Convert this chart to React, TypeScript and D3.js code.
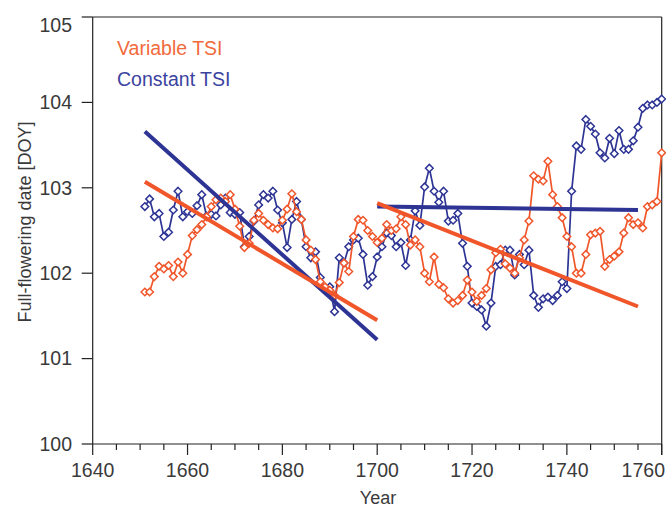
import React from "react";
import * as d3 from "d3";

// Years covered by both simulated series
const years: number[] = d3.range(1651, 1761);

// Full-flowering date simulated with variable total solar irradiance
const variableTSI: number[] = [
  101.78, 101.78, 101.96, 102.08, 102.05, 102.09, 101.96, 102.13, 102.0, 102.22,
  102.44, 102.51, 102.57, 102.66, 102.78, 102.86, 102.88, 102.84, 102.92, 102.75,
  102.55, 102.3, 102.35, 102.62, 102.7, 102.62, 102.57, 102.53, 102.52, 102.62,
  102.75, 102.93, 102.72, 102.63, 102.39, 102.27, 102.16, 101.9, 101.84, 101.8,
  101.74, 101.89, 102.12, 102.02, 102.43, 102.63, 102.62, 102.5, 102.43, 102.36,
  102.41, 102.57, 102.5, 102.52, 102.66, 102.57, 102.33, 102.39, 102.31, 102.0,
  101.9, 102.19, 101.87, 101.83, 101.7, 101.65, 101.68, 101.74, 101.92, 101.78,
  101.67, 101.74, 101.82, 102.04, 102.24, 102.28, 102.11, 102.06, 102.0, 102.18,
  102.39, 102.61, 103.14, 103.1, 103.08, 103.31, 102.92, 102.78, 102.65, 102.43,
  102.31, 102.0, 102.0, 102.22, 102.45, 102.47, 102.49, 102.08, 102.16, 102.2,
  102.25, 102.47, 102.65, 102.57, 102.59, 102.53, 102.78, 102.8, 102.84, 103.41,
];

// Full-flowering date simulated with constant total solar irradiance
const constantTSI: number[] = [
  102.78, 102.87, 102.66, 102.7, 102.43, 102.48, 102.74, 102.96, 102.66, 102.72,
  102.7, 102.79, 102.92, 102.67, 102.69, 102.67, 102.8, 102.88, 102.71, 102.69,
  102.71, 102.31, 102.43, 102.61, 102.8, 102.92, 102.88, 102.96, 102.74, 102.59,
  102.3, 102.63, 102.84, 102.63, 102.31, 102.18, 102.25, 101.95, 101.8, 101.84,
  101.55, 102.18, 102.12, 102.31, 102.39, 102.41, 102.22, 101.86, 101.96, 102.19,
  102.31, 102.47, 102.44, 102.31, 102.36, 102.09, 102.39, 102.73, 102.56, 103.01,
  103.23, 102.96, 102.83, 102.96, 102.61, 102.62, 102.7, 102.35, 102.08, 101.65,
  101.61, 101.57, 101.38, 101.65, 102.08, 102.1, 102.27, 102.27, 101.98, 102.22,
  102.1, 102.27, 101.74, 101.6, 101.7, 101.72, 101.68, 101.74, 101.9, 101.82,
  102.96, 103.49, 103.45, 103.8, 103.72, 103.63, 103.41, 103.35, 103.58, 103.4,
  103.67, 103.45, 103.45, 103.55, 103.71, 103.93, 103.97, 103.97, 104.0, 104.04,
];

// Linear trends: [startYear, startValue, endYear, endValue]
const variableTrends: [number, number, number, number][] = [
  [1651, 103.07, 1700, 101.45],
  [1700, 102.82, 1755, 101.61],
];
const constantTrends: [number, number, number, number][] = [
  [1651, 103.66, 1700, 101.22],
  [1700, 102.78, 1755, 102.74],
];

const yTicks: number[] = [100, 101, 102, 103, 104, 105];
const xMajorTicks: number[] = [1640, 1660, 1680, 1700, 1720, 1740, 1760];
const xMinorTicks: number[] = d3.range(1640, 1761, 5);

const ORANGE = "#F0562A";
const BLUE = "#2D3494";
const FONT = "'Liberation Sans', Arial, Helvetica, sans-serif";
const TEXT = "#3a3a3a";

export default function App() {
  const W = 666;
  const H = 508;
  const left = 92.7;
  const right = 661.7;
  const top = 17;
  const bottom = 444;

  const x = d3.scaleLinear().domain([1640, 1760]).range([left, right]);
  const y = d3.scaleLinear().domain([100, 105]).range([bottom, top]);

  const line = d3
    .line<number>()
    .x((_, i) => x(years[i]))
    .y((d) => y(d));

  const diamond = (r: number) => `M0,${-r}L${r},0L0,${r}L${-r},0Z`;

  const series = [
    { values: constantTSI, color: BLUE },
    { values: variableTSI, color: ORANGE },
  ];

  const trendSets = [
    { trends: constantTrends, color: BLUE },
    { trends: variableTrends, color: ORANGE },
  ];

  return (
    <svg
      width={W}
      height={H}
      style={{ position: "absolute", left: 0, top: 0, background: "#fff" }}
      fontFamily={FONT}
    >
      {/* frame */}
      <line x1={left} x2={right} y1={top} y2={top} stroke="#222" strokeWidth={1.2} />
      <line x1={right} x2={right} y1={top} y2={bottom + 11} stroke="#222" strokeWidth={1.2} />
      <line x1={left} x2={left} y1={top} y2={bottom} stroke="#222" strokeWidth={1.2} />
      <line x1={left} x2={right} y1={bottom} y2={bottom} stroke="#222" strokeWidth={1.2} />

      {/* y axis */}
      {yTicks.map((t) => (
        <g key={`y${t}`}>
          <line x1={left - 11} x2={left} y1={y(t)} y2={y(t)} stroke="#222" strokeWidth={1.2} />
          <text
            x={72}
            y={y(t) + (t === 105 ? 8 : 0)}
            dy="0.35em"
            textAnchor="end"
            fontSize={19.5}
            fill={TEXT}
          >
            {t}
          </text>
        </g>
      ))}

      {/* x axis */}
      {xMinorTicks.map((t) => (
        <line
          key={`xm${t}`}
          x1={x(t)}
          x2={x(t)}
          y1={bottom}
          y2={bottom + (xMajorTicks.includes(t) ? 11 : 6)}
          stroke="#222"
          strokeWidth={1.2}
        />
      ))}
      {xMajorTicks.map((t) => (
        <text
          key={`xl${t}`}
          x={t === 1760 ? 665 : x(t)}
          y={477}
          textAnchor={t === 1760 ? "end" : "middle"}
          fontSize={19.5}
          fill={TEXT}
        >
          {t}
        </text>
      ))}

      <text x={378} y={504} textAnchor="middle" fontSize={18} fill={TEXT}>
        Year
      </text>
      <text
        transform={`translate(31,222) rotate(-90)`}
        textAnchor="middle"
        fontSize={18}
        fill={TEXT}
      >
        Full-flowering date [DOY]
      </text>

      {/* legend */}
      <text x={117} y={55} fontSize={19.5} fill="#F26A3C">
        Variable TSI
      </text>
      <text x={117} y={86} fontSize={19.5} fill="#3B43A0">
        Constant TSI
      </text>

      {/* series */}
      {series.map((s, si) => (
        <g key={`s${si}`}>
          <path d={line(s.values) ?? ""} fill="none" stroke={s.color} strokeWidth={1.7} />
          {s.values.map((v, i) => (
            <path
              key={i}
              d={diamond(3.8)}
              transform={`translate(${x(years[i])},${y(v)})`}
              fill="#fff"
              stroke={s.color}
              strokeWidth={1.5}
            />
          ))}
        </g>
      ))}

      {/* trend lines */}
      {trendSets.map((ts, k) =>
        ts.trends.map(([x0, y0, x1, y1], j) => (
          <line
            key={`t${k}-${j}`}
            x1={x(x0)}
            y1={y(y0)}
            x2={x(x1)}
            y2={y(y1)}
            stroke={ts.color}
            strokeWidth={4}
          />
        ))
      )}
    </svg>
  );
}
